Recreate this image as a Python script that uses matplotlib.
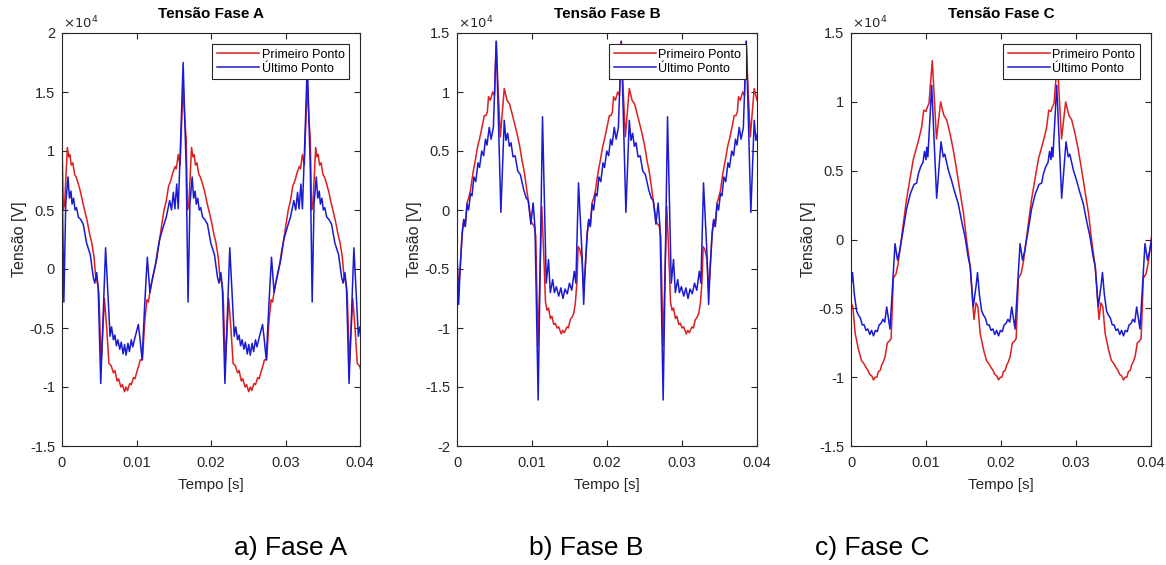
import matplotlib
matplotlib.use("Agg")
import matplotlib.pyplot as plt
import numpy as np

plt.rcParams['font.family'] = ['Liberation Sans', 'DejaVu Sans']

# tempo em ms, tensao em unidades de 1e4 V

# ---------------- Fase A ----------------
t_red_a = [0.0, 0.17, 0.35, 0.72, 0.9, 1.05, 1.25, 1.45, 1.7, 1.9, 2.2, 2.5, 2.8, 3.1, 3.4, 3.7, 4.0, 4.3, 4.5, 4.75,
           4.95, 5.25, 5.7, 6.0, 6.3, 6.6, 6.9, 7.1, 7.4, 7.6, 7.9, 8.1, 8.4, 8.6, 8.8, 9.1, 9.3, 9.6, 9.8, 10.1,
           10.3, 10.5, 10.8, 11.1, 11.4, 11.6, 11.9, 12.2, 12.5, 12.8, 13.1, 13.4, 13.7, 14.0, 14.3, 14.6, 14.9, 15.2,
           15.35, 15.6, 15.85, 16.25, 16.5,
           16.67, 16.84, 17.02, 17.39, 17.57, 17.72, 17.92, 18.12, 18.37, 18.57, 18.87, 19.17, 19.47, 19.77, 20.07,
           20.37, 20.67, 20.97, 21.17, 21.42, 21.62, 21.92, 22.37, 22.67, 22.97, 23.27, 23.57, 23.77, 24.07, 24.27,
           24.57, 24.77, 25.07, 25.27, 25.47, 25.77, 25.97, 26.27, 26.47, 26.77, 26.97, 27.17, 27.47, 27.77, 28.07,
           28.27, 28.57, 28.87, 29.17, 29.47, 29.77, 30.07, 30.37, 30.67, 30.97, 31.27, 31.57, 31.87, 32.02, 32.27,
           32.52, 32.92, 33.17,
           33.33, 33.50, 33.68, 34.05, 34.23, 34.38, 34.58, 34.78, 35.03, 35.23, 35.53, 35.83, 36.13, 36.43, 36.73,
           37.03, 37.33, 37.63, 37.83, 38.08, 38.28, 38.58, 39.03, 39.33, 39.63, 39.93, 40.23]
v_red_a = [1.10, 0.50, 0.55, 1.03, 0.95, 0.97, 0.88, 0.90, 0.80, 0.78, 0.72, 0.65, 0.56, 0.48, 0.40, 0.30, 0.22, 0.10,
           -0.05, -0.12, -0.20, -0.80, -0.25, -0.50, -0.80, -0.82, -0.88, -0.86, -0.95, -0.93, -1.00, -0.98, -1.04,
           -1.00, -1.03, -0.97, -0.98, -0.92, -0.93, -0.86, -0.82, -0.77, -0.77, -0.45, -0.26, -0.28, -0.15, -0.07,
           0.02, 0.15, 0.25, 0.38, 0.50, 0.58, 0.70, 0.75, 0.82, 0.87, 0.85, 0.97, 0.88, 1.55, 1.25,
           1.10, 0.50, 0.55, 1.03, 0.95, 0.97, 0.88, 0.90, 0.80, 0.78, 0.72, 0.65, 0.56, 0.48, 0.40, 0.30, 0.22, 0.10,
           -0.05, -0.12, -0.20, -0.80, -0.25, -0.50, -0.80, -0.82, -0.88, -0.86, -0.95, -0.93, -1.00, -0.98, -1.04,
           -1.00, -1.03, -0.97, -0.98, -0.92, -0.93, -0.86, -0.82, -0.77, -0.77, -0.45, -0.26, -0.28, -0.15, -0.07,
           0.02, 0.15, 0.25, 0.38, 0.50, 0.58, 0.70, 0.75, 0.82, 0.87, 0.85, 0.97, 0.88, 1.55, 1.25,
           1.10, 0.50, 0.55, 1.03, 0.95, 0.97, 0.88, 0.90, 0.80, 0.78, 0.72, 0.65, 0.56, 0.48, 0.40, 0.30, 0.22, 0.10,
           -0.05, -0.12, -0.20, -0.80, -0.25, -0.50, -0.80, -0.82, -0.88]

t_blue_a = [0.0, 0.25, 0.5, 0.8, 1.0, 1.2, 1.35, 1.55, 1.75, 1.95, 2.2, 2.5, 2.85, 3.3, 3.8, 4.2, 4.4, 4.65, 4.85, 5.2,
            5.85, 6.45, 6.65, 6.9, 7.1, 7.3, 7.5, 7.75, 7.95, 8.2, 8.4, 8.6, 8.85, 9.05, 9.3, 9.5, 9.8, 10.25, 10.45,
            10.75, 11.1, 11.45, 11.8, 12.2, 12.7, 13.1, 13.6, 14.0, 14.45, 14.7, 14.95, 15.15, 15.4, 15.6, 15.85, 16.26,
            16.67, 16.92, 17.17, 17.47, 17.67, 17.87, 18.02, 18.22, 18.42, 18.62, 18.87, 19.17, 19.52, 19.97, 20.47,
            20.87, 21.07, 21.32, 21.52, 21.87, 22.52, 23.12, 23.32, 23.57, 23.77, 23.97, 24.17, 24.42, 24.62, 24.87,
            25.07, 25.27, 25.52, 25.72, 25.97, 26.17, 26.47, 26.92, 27.12, 27.42, 27.77, 28.12, 28.47, 28.87, 29.37,
            29.77, 30.27, 30.67, 31.12, 31.37, 31.62, 31.82, 32.07, 32.27, 32.52, 32.93,
            33.33, 33.58, 33.83, 34.13, 34.33, 34.53, 34.68, 34.88, 35.08, 35.28, 35.53, 35.83, 36.18, 36.63, 37.13,
            37.53, 37.73, 37.98, 38.18, 38.53, 39.18, 39.78, 39.98, 40.23]
v_blue_a = [0.85, -0.28, 0.55, 0.78, 0.60, 0.66, 0.55, 0.60, 0.50, 0.52, 0.44, 0.42, 0.38, 0.22, 0.12, -0.07, -0.12,
            -0.03, -0.15, -0.97, 0.18, -0.57, -0.49, -0.60, -0.56, -0.65, -0.60, -0.68, -0.62, -0.72, -0.64, -0.73,
            -0.63, -0.70, -0.60, -0.66, -0.58, -0.47, -0.58, -0.77, -0.30, 0.10, -0.20, -0.06, 0.08, 0.25, 0.36, 0.44,
            0.58, 0.50, 0.65, 0.51, 0.72, 0.51, 0.95, 1.75,
            0.85, -0.28, 0.55, 0.78, 0.60, 0.66, 0.55, 0.60, 0.50, 0.52, 0.44, 0.42, 0.38, 0.22, 0.12, -0.07, -0.12,
            -0.03, -0.15, -0.97, 0.18, -0.57, -0.49, -0.60, -0.56, -0.65, -0.60, -0.68, -0.62, -0.72, -0.64, -0.73,
            -0.63, -0.70, -0.60, -0.66, -0.58, -0.47, -0.58, -0.77, -0.30, 0.10, -0.20, -0.06, 0.08, 0.25, 0.36, 0.44,
            0.58, 0.50, 0.65, 0.51, 0.72, 0.51, 0.95, 1.75,
            0.85, -0.28, 0.55, 0.78, 0.60, 0.66, 0.55, 0.60, 0.50, 0.52, 0.44, 0.42, 0.38, 0.22, 0.12, -0.07, -0.12,
            -0.03, -0.15, -0.97, 0.18, -0.57, -0.49, -0.60]

# ---------------- Fase B ----------------
t_red_b = [0.0, 0.2, 0.45, 0.67, 0.9, 1.1, 1.33, 1.55, 1.78, 2.0, 2.2, 2.44, 2.76, 3.0, 3.33, 3.64, 3.85, 4.05, 4.2,
           4.45, 4.75, 5.0, 5.22, 5.5, 5.78, 6.3, 6.67, 7.0, 7.33, 7.64, 8.0, 8.36, 8.67, 9.0, 9.33, 9.9, 10.3, 10.5,
           10.8, 11.3, 11.55, 11.8, 12.0, 12.2, 12.45, 12.65, 12.9, 13.1, 13.35, 13.55, 13.9, 14.1, 14.3, 14.67, 14.85,
           15.1, 15.33, 15.55, 15.78, 16.0, 16.15, 16.35,
           16.67, 16.87, 17.12, 17.34, 17.57, 17.77, 18.00, 18.22, 18.45, 18.67, 18.87, 19.11, 19.43, 19.67, 20.00,
           20.31, 20.52, 20.72, 20.87, 21.12, 21.42, 21.67, 21.89, 22.17, 22.45, 22.97, 23.34, 23.67, 24.00, 24.31,
           24.67, 25.03, 25.34, 25.67, 26.00, 26.57, 26.97, 27.17, 27.47, 27.97, 28.22, 28.47, 28.67, 28.87, 29.12,
           29.32, 29.57, 29.77, 30.02, 30.22, 30.57, 30.77, 30.97, 31.34, 31.52, 31.77, 32.00, 32.22, 32.45, 32.67,
           32.82, 33.02,
           33.33, 33.53, 33.78, 34.00, 34.23, 34.43, 34.66, 34.88, 35.11, 35.33, 35.53, 35.77, 36.09, 36.33, 36.66,
           36.97, 37.18, 37.38, 37.53, 37.78, 38.08, 38.33, 38.55, 38.83, 39.11, 39.63, 40.00, 40.33]
v_red_b = [-0.42, -0.68, -0.48, -0.20, -0.08, -0.14, 0.06, 0.10, 0.16, 0.26, 0.34, 0.42, 0.54, 0.60, 0.70, 0.80, 0.80,
           0.83, 0.96, 0.93, 1.00, 0.97, 1.43, 1.00, 0.62, 1.03, 0.93, 0.90, 0.82, 0.74, 0.65, 0.54, 0.42, 0.31, 0.16,
           -0.10, -0.14, -0.22, -1.15, 0.03, -0.35, -0.78, -0.85, -0.83, -0.92, -0.90, -0.97, -0.96, -1.00, -0.99,
           -1.05, -1.02, -1.04, -0.99, -1.00, -0.93, -0.91, -0.88, -0.79, -0.60, -0.31, -0.33,
           -0.42, -0.68, -0.48, -0.20, -0.08, -0.14, 0.06, 0.10, 0.16, 0.26, 0.34, 0.42, 0.54, 0.60, 0.70, 0.80, 0.80,
           0.83, 0.96, 0.93, 1.00, 0.97, 1.43, 1.00, 0.62, 1.03, 0.93, 0.90, 0.82, 0.74, 0.65, 0.54, 0.42, 0.31, 0.16,
           -0.10, -0.14, -0.22, -1.15, 0.03, -0.35, -0.78, -0.85, -0.83, -0.92, -0.90, -0.97, -0.96, -1.00, -0.99,
           -1.05, -1.02, -1.04, -0.99, -1.00, -0.93, -0.91, -0.88, -0.79, -0.60, -0.31, -0.33,
           -0.42, -0.68, -0.48, -0.20, -0.08, -0.14, 0.06, 0.10, 0.16, 0.26, 0.34, 0.42, 0.54, 0.60, 0.70, 0.80, 0.80,
           0.83, 0.96, 0.93, 1.00, 0.97, 1.43, 1.00, 0.62, 1.03, 0.93, 0.90]

t_blue_b = [0.0, 0.22, 0.45, 0.7, 0.9, 1.1, 1.35, 1.55, 1.8, 2.0, 2.25, 2.5, 2.8, 3.0, 3.3, 3.55, 3.8, 4.0, 4.3, 4.55,
            4.85, 5.24, 5.85, 6.3, 6.53, 6.75, 6.98, 7.2, 7.47, 7.75, 8.1, 8.45, 8.9, 9.24, 9.5, 9.85, 10.15, 10.4,
            10.82, 11.4, 11.9, 12.2, 12.44, 12.76, 12.98, 13.25, 13.56, 13.85, 14.13, 14.4, 14.7, 15.0, 15.3, 15.64,
            15.85, 16.2,
            16.67, 16.89, 17.12, 17.37, 17.57, 17.77, 18.02, 18.22, 18.47, 18.67, 18.92, 19.17, 19.47, 19.67, 19.97,
            20.22, 20.47, 20.67, 20.97, 21.22, 21.52, 21.91, 22.52, 22.97, 23.20, 23.42, 23.65, 23.87, 24.14, 24.42,
            24.77, 25.12, 25.57, 25.91, 26.17, 26.52, 26.82, 27.07, 27.49, 28.07, 28.57, 28.87, 29.11, 29.43, 29.65,
            29.92, 30.23, 30.52, 30.80, 31.07, 31.37, 31.67, 31.97, 32.31, 32.52, 32.87,
            33.33, 33.55, 33.78, 34.03, 34.23, 34.43, 34.68, 34.88, 35.13, 35.33, 35.58, 35.83, 36.13, 36.33, 36.63,
            36.88, 37.13, 37.33, 37.63, 37.88, 38.18, 38.57, 39.18, 39.63, 39.86, 40.08]
v_blue_b = [-0.37, -0.80, -0.45, -0.20, -0.08, -0.14, 0.05, 0.00, 0.14, 0.12, 0.28, 0.24, 0.40, 0.36, 0.50, 0.46, 0.60,
            0.55, 0.70, 0.60, 0.70, 1.43, -0.02, 0.76, 0.59, 0.65, 0.54, 0.57, 0.45, 0.46, 0.33, 0.30, 0.17, 0.10,
            0.08, -0.12, 0.06, -0.15, -1.61, 0.79, -0.62, -0.42, -0.70, -0.59, -0.70, -0.65, -0.73, -0.66, -0.75,
            -0.67, -0.71, -0.62, -0.68, -0.52, -0.62, 0.23,
            -0.37, -0.80, -0.45, -0.20, -0.08, -0.14, 0.05, 0.00, 0.14, 0.12, 0.28, 0.24, 0.40, 0.36, 0.50, 0.46, 0.60,
            0.55, 0.70, 0.60, 0.70, 1.43, -0.02, 0.76, 0.59, 0.65, 0.54, 0.57, 0.45, 0.46, 0.33, 0.30, 0.17, 0.10,
            0.08, -0.12, 0.06, -0.15, -1.61, 0.79, -0.62, -0.42, -0.70, -0.59, -0.70, -0.65, -0.73, -0.66, -0.75,
            -0.67, -0.71, -0.62, -0.68, -0.52, -0.62, 0.23,
            -0.37, -0.80, -0.45, -0.20, -0.08, -0.14, 0.05, 0.00, 0.14, 0.12, 0.28, 0.24, 0.40, 0.36, 0.50, 0.46, 0.60,
            0.55, 0.70, 0.60, 0.70, 1.43, -0.02, 0.76, 0.59, 0.65]

# ---------------- Fase C ----------------
t_red_c = [0.0, 0.25, 0.55, 1.0, 1.4, 1.7, 2.0, 2.25, 2.5, 2.75, 3.0, 3.25, 3.45, 3.65, 3.9, 4.1, 4.3, 4.55, 4.85, 5.1,
           5.35, 5.65, 6.0, 6.3, 6.75, 7.4, 8.3, 9.0, 9.4, 9.7, 10.0, 10.1, 10.4, 10.84, 11.4, 11.95, 12.2, 12.4, 12.75,
           13.2, 13.64, 14.1, 14.5, 15.0, 15.4, 15.9, 16.2, 16.4,
           16.67, 16.92, 17.22, 17.67, 18.07, 18.37, 18.67, 18.92, 19.17, 19.42, 19.67, 19.92, 20.12, 20.32, 20.57,
           20.77, 20.97, 21.22, 21.52, 21.77, 22.02, 22.32, 22.67, 22.97, 23.42, 24.07, 24.97, 25.67, 26.07, 26.37,
           26.67, 26.77, 27.07, 27.51, 28.07, 28.62, 28.87, 29.07, 29.42, 29.87, 30.31, 30.77, 31.17, 31.67, 32.07,
           32.57, 32.87, 33.07,
           33.33, 33.58, 33.88, 34.33, 34.73, 35.03, 35.33, 35.58, 35.83, 36.08, 36.33, 36.58, 36.78, 36.98, 37.23,
           37.43, 37.63, 37.88, 38.18, 38.43, 38.68, 38.98, 39.33, 39.63, 40.08]
v_red_c = [-0.46, -0.49, -0.68, -0.80, -0.88, -0.90, -0.93, -0.95, -0.98, -0.99, -1.02, -1.00, -1.00, -0.96, -0.95,
           -0.91, -0.89, -0.85, -0.75, -0.74, -0.72, -0.28, -0.25, -0.17, 0.02, 0.29, 0.58, 0.72, 0.81, 0.94, 0.93,
           0.95, 0.99, 1.30, 0.73, 1.00, 0.94, 0.90, 0.87, 0.77, 0.65, 0.50, 0.36, 0.19, 0.00, -0.20, -0.44, -0.58,
           -0.46, -0.49, -0.68, -0.80, -0.88, -0.90, -0.93, -0.95, -0.98, -0.99, -1.02, -1.00, -1.00, -0.96, -0.95,
           -0.91, -0.89, -0.85, -0.75, -0.74, -0.72, -0.28, -0.25, -0.17, 0.02, 0.29, 0.58, 0.72, 0.81, 0.94, 0.93,
           0.95, 0.99, 1.30, 0.73, 1.00, 0.94, 0.90, 0.87, 0.77, 0.65, 0.50, 0.36, 0.19, 0.00, -0.20, -0.44, -0.58,
           -0.46, -0.49, -0.68, -0.80, -0.88, -0.90, -0.93, -0.95, -0.98, -0.99, -1.02, -1.00, -1.00, -0.96, -0.95,
           -0.91, -0.89, -0.85, -0.75, -0.74, -0.72, -0.28, -0.25, -0.17, 0.02]

t_blue_c = [0.0, 0.2, 0.45, 0.75, 1.0, 1.25, 1.5, 1.75, 2.0, 2.25, 2.5, 2.75, 3.0, 3.25, 3.5, 3.75, 4.0, 4.25, 4.5,
            4.76, 5.0, 5.2, 5.87, 6.2, 6.5, 6.9, 7.4, 7.9, 8.4, 8.75, 9.0, 9.3, 9.6, 9.8, 10.0, 10.1, 10.25, 10.76,
            11.42, 12.0, 12.3, 12.5, 12.75, 13.0, 13.4, 13.8, 14.3, 14.8, 15.2, 15.6, 15.9, 16.3,
            16.67, 16.87, 17.12, 17.42, 17.67, 17.92, 18.17, 18.42, 18.67, 18.92, 19.17, 19.42, 19.67, 19.92, 20.17,
            20.42, 20.67, 20.92, 21.17, 21.43, 21.67, 21.87, 22.54, 22.87, 23.17, 23.57, 24.07, 24.57, 25.07, 25.42,
            25.67, 25.97, 26.27, 26.47, 26.67, 26.77, 26.92, 27.43, 28.09, 28.67, 28.97, 29.17, 29.42, 29.67, 30.07,
            30.47, 30.97, 31.47, 31.87, 32.27, 32.57, 32.97,
            33.33, 33.53, 33.78, 34.08, 34.33, 34.58, 34.83, 35.08, 35.33, 35.58, 35.83, 36.08, 36.33, 36.58, 36.83,
            37.08, 37.33, 37.58, 37.83, 38.09, 38.33, 38.53, 39.20, 39.53, 39.83, 40.23]
v_blue_c = [-0.34, -0.24, -0.40, -0.52, -0.55, -0.57, -0.62, -0.62, -0.66, -0.65, -0.69, -0.66, -0.70, -0.66, -0.67,
            -0.62, -0.61, -0.58, -0.60, -0.49, -0.58, -0.65, -0.03, -0.15, -0.08, 0.05, 0.22, 0.33, 0.40, 0.41, 0.48,
            0.53, 0.56, 0.64, 0.58, 0.67, 0.60, 1.12, 0.30, 0.71, 0.60, 0.62, 0.56, 0.50, 0.43, 0.35, 0.26, 0.12, 0.02,
            -0.12, -0.20, -0.49,
            -0.34, -0.24, -0.40, -0.52, -0.55, -0.57, -0.62, -0.62, -0.66, -0.65, -0.69, -0.66, -0.70, -0.66, -0.67,
            -0.62, -0.61, -0.58, -0.60, -0.49, -0.58, -0.65, -0.03, -0.15, -0.08, 0.05, 0.22, 0.33, 0.40, 0.41, 0.48,
            0.53, 0.56, 0.64, 0.58, 0.67, 0.60, 1.12, 0.30, 0.71, 0.60, 0.62, 0.56, 0.50, 0.43, 0.35, 0.26, 0.12, 0.02,
            -0.12, -0.20, -0.49,
            -0.34, -0.24, -0.40, -0.52, -0.55, -0.57, -0.62, -0.62, -0.66, -0.65, -0.69, -0.66, -0.70, -0.66, -0.67,
            -0.62, -0.61, -0.58, -0.60, -0.49, -0.58, -0.65, -0.03, -0.15, -0.08, 0.05]

titles = ['Tensão Fase A', 'Tensão Fase B', 'Tensão Fase C']
captions = ['a) Fase A', 'b) Fase B', 'c) Fase C']
ylims = [(-1.5, 2.0), (-2.0, 1.5), (-1.5, 1.5)]
xticks = [0, 0.01, 0.02, 0.03, 0.04]
xticklabels = ['0', '0.01', '0.02', '0.03', '0.04']

series = [
    (t_red_a, v_red_a, t_blue_a, v_blue_a),
    (t_red_b, v_red_b, t_blue_b, v_blue_b),
    (t_red_c, v_red_c, t_blue_c, v_blue_c),
]

fig = plt.figure(figsize=(11.66, 5.65), dpi=100)
lefts = [62 / 1166, 457 / 1166, 851 / 1166]
widths = [298 / 1166, 300 / 1166, 300 / 1166]
cap_x = [291 / 1166, 586 / 1166, 872 / 1166]
axcol = '#262626'

for i in range(3):
    ax = fig.add_axes([lefts[i], 1 - 446 / 565, widths[i], 413 / 565])
    tr, vr, tb, vb = series[i]
    ax.plot(np.array(tr) / 1000, vr, color='#dc1f1f', lw=1.1, label='Primeiro Ponto')
    ax.plot(np.array(tb) / 1000, vb, color='#1a1ad2', lw=1.1, label='Último Ponto')
    ax.set_xlim(0, 0.04)
    ax.set_ylim(*ylims[i])
    yt = np.arange(ylims[i][0], ylims[i][1] + 0.01, 0.5)
    ax.set_yticks(yt)
    ax.set_yticklabels(['%g' % v for v in yt])
    ax.set_xticks(xticks)
    ax.set_xticklabels(xticklabels)
    ax.tick_params(direction='in', top=True, right=True, length=4, width=0.8,
                   labelsize=10.5, colors=axcol)
    ax.tick_params(axis='x', pad=7)
    ax.tick_params(axis='y', pad=5)
    for s in ax.spines.values():
        s.set_color(axcol)
        s.set_linewidth(0.8)
    ax.set_title(titles[i], fontsize=11, fontweight='bold', pad=11, color='black')
    ax.set_xlabel('Tempo [s]', fontsize=11, labelpad=6, color=axcol)
    ax.set_ylabel('Tensão [V]', fontsize=11.5, labelpad=2, color=axcol)
    ax.text(0.005, 1.004, r'$\times10^4$', transform=ax.transAxes, fontsize=9.5,
            ha='left', va='bottom', color=axcol)
    leg = ax.legend(loc='upper right', fontsize=9, handlelength=3.4, handletextpad=0.2,
                    borderpad=0.35, labelspacing=0.15, borderaxespad=0.9, fancybox=False,
                    framealpha=1)
    leg.get_frame().set_edgecolor(axcol)
    leg.get_frame().set_linewidth(0.8)
    fig.text(cap_x[i], 1 - 548 / 565, captions[i], fontsize=19, ha='center', va='center')

fig.savefig('out.png', dpi=100)
